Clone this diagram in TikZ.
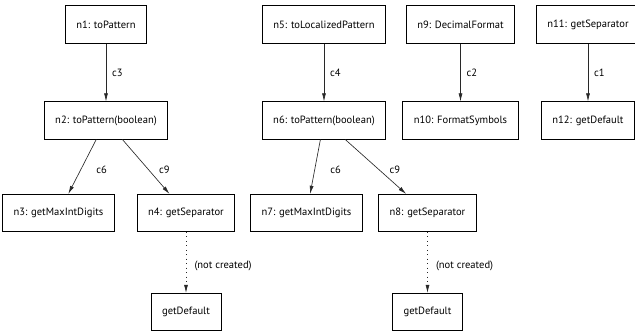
\documentclass[tikz,border=0pt]{standalone}
\usepackage{fontspec}
\setmainfont{PT Sans}
\usepackage{xcolor}
\usepackage{tikz}
\usetikzlibrary{arrows.meta, positioning}
\definecolor{edgeGray}{RGB}{40,40,40}

\begin{document}
\begin{tikzpicture}[
  box/.style={rectangle, draw, line width=0.6pt, fill=white,
              minimum height=1.12cm, inner xsep=0.33cm, font=\fontsize{9}{10}\selectfont},
  arrow/.style={-{Latex[length=7pt, width=3.4pt]}, line width=0.55pt, draw=edgeGray},
  missing/.style={arrow, dash pattern=on 0.6pt off 3.2pt},
  lbl/.style={font=\fontsize{9}{10}\selectfont, inner sep=1pt}
]
\useasboundingbox (0,0) rectangle (19.05,-9.99);

% Left tree: toPattern
\node[box] (n1) at (3.18,-0.735) {n1: toPattern};
\node[box] (n2) at (3.18,-3.615) {n2: toPattern(boolean)};
\node[box] (n3) at (1.755,-6.39) {n3: getMaxIntDigits};
\node[box] (n4) at (5.58,-6.39) {n4: getSeparator};
\node[box] (d1) at (5.58,-9.36) {getDefault};

\draw[arrow] (n1) -- node[lbl, right=4pt] {c3} (n2);
\draw[arrow] (n2) -- node[lbl, right=12pt, pos=0.55] {c6} (n3);
\draw[arrow] (n2) -- node[lbl, right=8pt, pos=0.55] {c9} (n4);
\draw[missing] (n4) -- node[lbl, right=6pt, pos=0.55] {(not created)} (d1);

% Middle tree: toLocalizedPattern
\node[box] (n5) at (9.72,-0.735) {n5: toLocalizedPattern};
\node[box] (n6) at (9.72,-3.615) {n6: toPattern(boolean)};
\node[box] (n7) at (9.195,-6.39) {n7: getMaxIntDigits};
\node[box] (n8) at (12.825,-6.39) {n8: getSeparator};
\node[box] (d2) at (12.825,-9.36) {getDefault};

\draw[arrow] (n5) -- node[lbl, right=4pt] {c4} (n6);
\draw[arrow] (n6) -- node[lbl, right=12pt, pos=0.55] {c6} (n7);
\draw[arrow] (n6) -- node[lbl, right=8pt, pos=0.55] {c9} (n8);
\draw[missing] (n8) -- node[lbl, right=6pt, pos=0.55] {(not created)} (d2);

% Single calls
\node[box] (n9) at (13.815,-0.735) {n9: DecimalFormat};
\node[box] (n10) at (13.815,-3.615) {n10: FormatSymbols};
\node[box] (n11) at (17.64,-0.735) {n11: getSeparator};
\node[box] (n12) at (17.64,-3.615) {n12: getDefault};

\draw[arrow] (n9) -- node[lbl, right=4pt] {c2} (n10);
\draw[arrow] (n11) -- node[lbl, right=4pt] {c1} (n12);

\end{tikzpicture}
\end{document}
